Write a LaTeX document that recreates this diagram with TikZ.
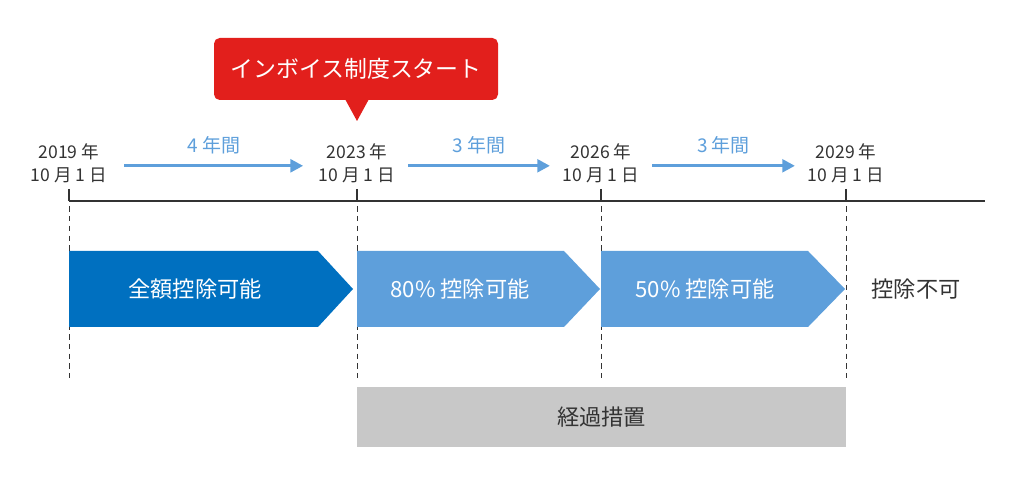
\documentclass[tikz,border=0pt]{standalone}
\usepackage{fontspec}
\setmainfont{Noto Sans CJK JP}
\usepackage{xcolor}
\usepackage{tikz}
\usetikzlibrary{arrows.meta}

\definecolor{darkblue}{HTML}{0070C0}
\definecolor{lightblue}{HTML}{5E9FDB}
\definecolor{callred}{HTML}{E21F1C}
\definecolor{boxgray}{HTML}{C8C8C8}
\definecolor{ink}{HTML}{333333}

\tikzset{
  datelbl/.style={align=center,text=ink,inner sep=0pt,font=\fontsize{12.5}{16.5}\selectfont},
  spanlbl/.style={text=lightblue,font=\fontsize{13.5}{15}\selectfont},
  yarrow/.style={draw=lightblue,line width=2.2pt,-{Triangle[length=9pt,width=9pt]}},
  chevtxt/.style={text=white,font=\fontsize{15.8}{18}\selectfont},
  cut/.style={draw=ink,dashed,dash pattern=on 4pt off 3pt,line width=0.5pt}
}

\begin{document}
\begin{tikzpicture}[x=0.25mm,y=-0.25mm]
\useasboundingbox (0,0) rectangle (1024,484);
% timeline
\draw[ink,line width=1.5pt] (69,201) -- (985,201);
\foreach \x in {69,357,601,846}{
  \draw[ink,line width=1.5pt] (\x,189) -- (\x,201);
  \draw[cut] (\x,206) -- (\x,378);
}
% dates
\node[datelbl] (d2019) at (69,163) {2019 年\\10 月 1 日};
\node[datelbl] (d2023) at (357,163) {2023 年\\10 月 1 日};
\node[datelbl] (d2026) at (601,163) {2026 年\\10 月 1 日};
\node[datelbl] (d2029) at (846,163) {2029 年\\10 月 1 日};
% spans
\draw[yarrow] ([xshift=12pt,yshift=-2pt]d2019.east) -- ([xshift=-11pt,yshift=-2pt]d2023.west) node[midway,above=4pt,spanlbl] (span1) {4 年間};
\draw[yarrow] ([xshift=9pt,yshift=-2pt]d2023.east) -- ([xshift=-9pt,yshift=-2pt]d2026.west) node[midway,above=4pt,spanlbl] (span2) {3 年間};
\draw[yarrow] ([xshift=9pt,yshift=-2pt]d2026.east) -- ([xshift=-9pt,yshift=-2pt]d2029.west) node[midway,above=4pt,spanlbl] (span3) {3 年間};
% callout
\node[fill=callred,rounded corners=4pt,minimum width=284*0.25mm,minimum height=62*0.25mm,
  text=white,font=\fontsize{16.3}{18}\selectfont] (start) at (356,69) {インボイス制度スタート};
\fill[callred] (345,99) -- (369,99) -- (357,121) -- cycle;
% chevrons
\fill[darkblue] (69,251) -- (318,251) -- (353,289) -- (318,327) -- (69,327) -- cycle;
\fill[lightblue] (357,251) -- (564,251) -- (600,289) -- (564,327) -- (357,327) -- cycle;
\fill[lightblue] (601,251) -- (808,251) -- (845,289) -- (808,327) -- (601,327) -- cycle;
\node[chevtxt] (full) at (195,289) {全額控除可能};
\node[chevtxt] (eighty) at (460,289) {80\% 控除可能};
\node[chevtxt] (fifty) at (705,289) {50\% 控除可能};
\node[text=ink,font=\fontsize{15.8}{18}\selectfont] (none) at (916,289) {控除不可};
% transition
\node[fill=boxgray,minimum width=489*0.25mm,minimum height=60*0.25mm,
  text=ink,font=\fontsize{15.8}{18}\selectfont] (trans) at (601.5,417) {経過措置};
\end{tikzpicture}
\end{document}
